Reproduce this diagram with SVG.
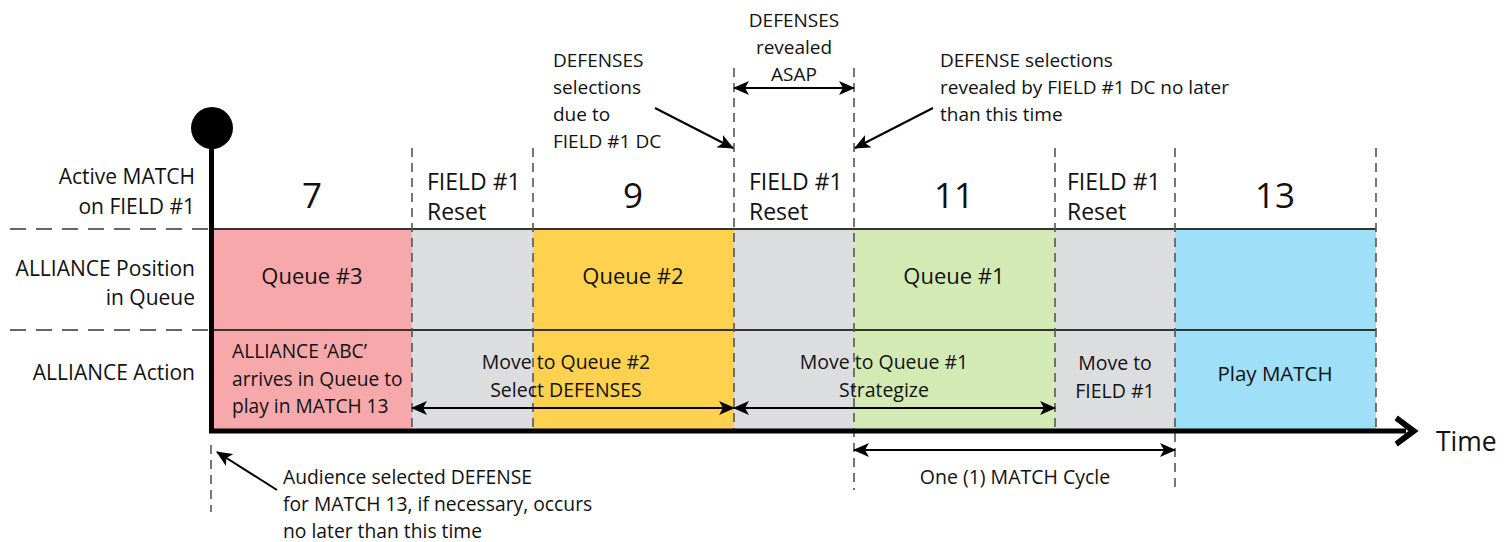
<svg xmlns="http://www.w3.org/2000/svg" width="1507" height="542" viewBox="0 0 1507 542">
<defs>
<marker id="ah" markerUnits="userSpaceOnUse" markerWidth="16" markerHeight="14" viewBox="0 0 16 14" refX="15" refY="7" orient="auto-start-reverse">
<path d="M0,0 L16,7 L0,14 L4,7 z" fill="#000"/>
</marker>
</defs>
<style>
text{font-family:"Open Sans","Noto Sans","Liberation Sans",sans-serif;fill:#111}
.lab{font-size:21px;text-anchor:end}
.num{font-size:35px;text-anchor:middle}
.fr{font-size:23px}
.q{font-size:22px;text-anchor:middle}
.act{font-size:19.5px;text-anchor:middle}
.ann{font-size:19px}
.vd{stroke:#555;stroke-width:1.6;stroke-dasharray:9 6;fill:none}
.hd{stroke:#333;stroke-width:1.6;stroke-dasharray:16 10;fill:none}
.ln{stroke:#000;stroke-width:2;fill:none}
</style>

<g id="cells">
<rect x="211" y="229" width="201" height="201" fill="#F7A8AB"/>
<rect x="412" y="229" width="121" height="201" fill="#DCDDDF"/>
<rect x="533" y="229" width="201" height="201" fill="#FED14F"/>
<rect x="734" y="229" width="120" height="201" fill="#DCDDDF"/>
<rect x="854" y="229" width="201" height="201" fill="#D4EAB4"/>
<rect x="1055" y="229" width="120" height="201" fill="#DCDDDF"/>
<rect x="1175" y="229" width="201" height="201" fill="#9FDFF7"/>
<line x1="211" y1="229" x2="1376" y2="229" stroke="#333" stroke-width="1.8"/>
<line x1="211" y1="330" x2="1376" y2="330" stroke="#333" stroke-width="1.8"/>
</g>

<g id="gridlines">
<line class="hd" x1="10" y1="229" x2="211" y2="229"/>
<line class="hd" x1="10" y1="330" x2="211" y2="330"/>
<line class="vd" x1="412" y1="148" x2="412" y2="430"/>
<line class="vd" x1="533" y1="148" x2="533" y2="430"/>
<line class="vd" x1="734" y1="68" x2="734" y2="430"/>
<line class="vd" x1="854" y1="68" x2="854" y2="490"/>
<line class="vd" x1="1055" y1="148" x2="1055" y2="430"/>
<line class="vd" x1="1175" y1="148" x2="1175" y2="490"/>
<line class="vd" x1="1376" y1="148" x2="1376" y2="430"/>
<line class="vd" x1="211" y1="445" x2="211" y2="512" stroke-dasharray="11 18"/>
</g>

<g id="axes">
<circle cx="212" cy="128" r="21" fill="#000"/>
<line x1="211.5" y1="128" x2="211.5" y2="433" stroke="#000" stroke-width="5"/>
<line x1="209" y1="431" x2="1406" y2="431" stroke="#000" stroke-width="5"/>
<path d="M1417,431 L1398,417 L1396,420 L1410,431 L1396,442 L1398,445 z" fill="#000" stroke="#000" stroke-width="2" stroke-linejoin="miter"/>
<text x="1436" y="451" style="font-size:26.5px">Time</text>
</g>

<g id="connectors">
<line class="ln" x1="412" y1="408" x2="734" y2="408" marker-start="url(#ah)" marker-end="url(#ah)"/>
<line class="ln" x1="734" y1="408" x2="1055" y2="408" marker-start="url(#ah)" marker-end="url(#ah)"/>
<line class="ln" x1="734" y1="88" x2="854" y2="88" marker-start="url(#ah)" marker-end="url(#ah)"/>
<line class="ln" x1="854" y1="450" x2="1175" y2="450" marker-start="url(#ah)" marker-end="url(#ah)"/>
<line class="ln" x1="655" y1="108" x2="733" y2="148" marker-end="url(#ah)"/>
<line class="ln" x1="933" y1="108" x2="855" y2="148" marker-end="url(#ah)"/>
<line class="ln" x1="277" y1="490" x2="217" y2="452" marker-end="url(#ah)"/>
</g>

<g id="row-labels">
<text class="lab" x="195" y="184">Active MATCH</text>
<text class="lab" x="195" y="214">on FIELD #1</text>
<text class="lab" x="195" y="276">ALLIANCE Position</text>
<text class="lab" x="195" y="305">in Queue</text>
<text class="lab" x="195" y="380">ALLIANCE Action</text>
</g>

<g id="match-row">
<text class="num" x="312" y="208">7</text>
<text class="fr" x="427" y="190">FIELD #1</text>
<text class="fr" x="427" y="220">Reset</text>
<text class="num" x="633" y="208">9</text>
<text class="fr" x="749" y="190">FIELD #1</text>
<text class="fr" x="749" y="220">Reset</text>
<text class="num" x="954" y="208">11</text>
<text class="fr" x="1067" y="190">FIELD #1</text>
<text class="fr" x="1067" y="220">Reset</text>
<text class="num" x="1275" y="208">13</text>
</g>

<g id="queue-row">
<text class="q" x="312" y="284">Queue #3</text>
<text class="q" x="633" y="284">Queue #2</text>
<text class="q" x="954" y="284">Queue #1</text>
</g>

<g id="action-row">
<text x="232" y="358" style="font-size:19.2px">ALLIANCE ‘ABC’</text>
<text x="232" y="386" style="font-size:19.2px">arrives in Queue to</text>
<text x="232" y="413" style="font-size:19.2px">play in MATCH 13</text>
<text class="act" x="566" y="369">Move to Queue #2</text>
<text class="act" x="566" y="397">Select DEFENSES</text>
<text class="act" x="884" y="369">Move to Queue #1</text>
<text class="act" x="884" y="397">Strategize</text>
<text class="act" x="1115" y="370">Move to</text>
<text class="act" x="1115" y="398">FIELD #1</text>
<text class="act" x="1275" y="381" style="font-size:20.5px">Play MATCH</text>
</g>

<g id="annotations">
<text class="ann" x="553" y="67">DEFENSES</text>
<text class="ann" x="553" y="94">selections</text>
<text class="ann" x="553" y="121">due to</text>
<text class="ann" x="553" y="148">FIELD #1 DC</text>
<text class="ann" x="794" y="27" text-anchor="middle">DEFENSES</text>
<text class="ann" x="794" y="54" text-anchor="middle">revealed</text>
<text class="ann" x="794" y="81" text-anchor="middle">ASAP</text>
<text class="ann" x="940" y="67">DEFENSE selections</text>
<text class="ann" x="940" y="94">revealed by FIELD #1 DC no later</text>
<text class="ann" x="940" y="121">than this time</text>
<text class="ann" x="1015" y="484" text-anchor="middle" style="font-size:19.5px">One (1) MATCH Cycle</text>
<text class="ann" x="283" y="484" style="font-size:19.3px">Audience selected DEFENSE</text>
<text class="ann" x="283" y="511" style="font-size:19.3px">for MATCH 13, if necessary, occurs</text>
<text class="ann" x="283" y="538" style="font-size:19.3px">no later than this time</text>
</g>
</svg>
